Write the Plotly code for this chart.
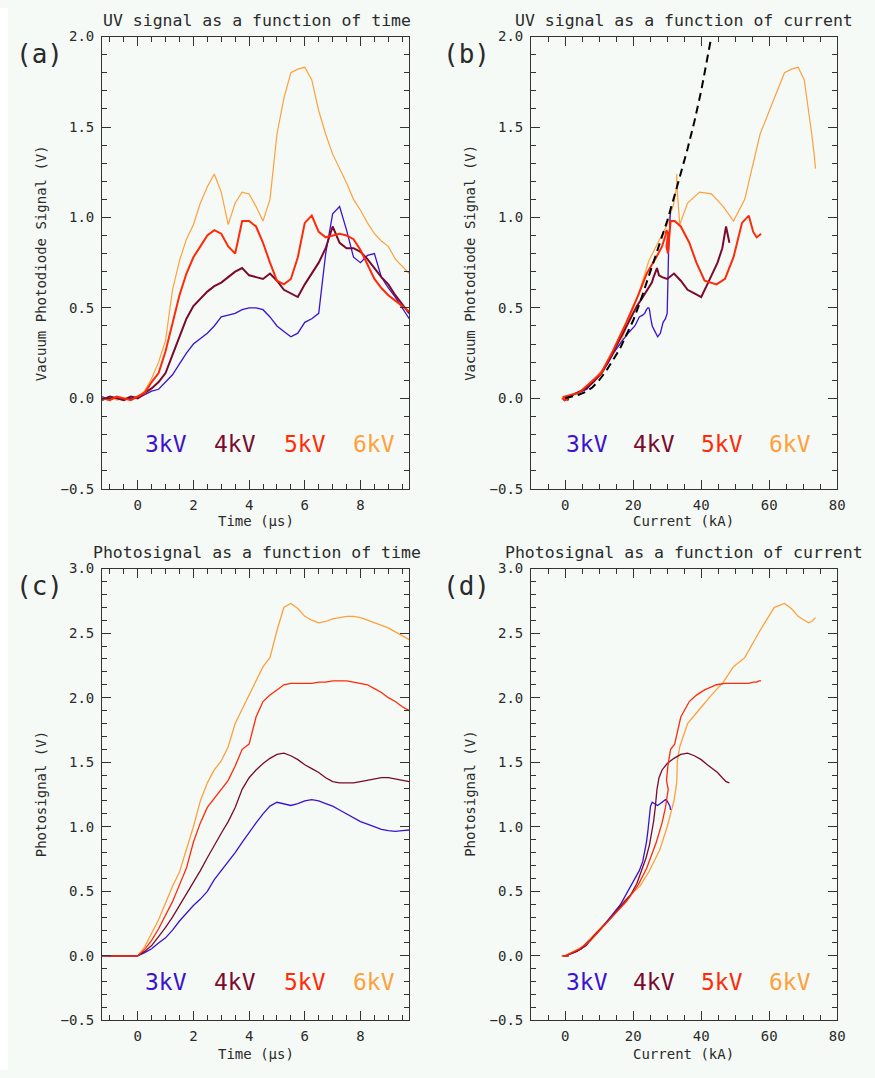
import plotly.graph_objects as go

# ---------------- data ----------------
TIME_US = [-1.28, -1.0, -0.75, -0.5, -0.25,
           0.0, 0.25, 0.5, 0.75, 1.0, 1.25, 1.5, 1.75, 2.0, 2.25, 2.5, 2.75,
           3.0, 3.25, 3.5, 3.75, 4.0, 4.25, 4.5, 4.75, 5.0, 5.25, 5.5, 5.75,
           6.0, 6.25, 6.5, 6.75, 7.0, 7.25, 7.5, 7.75, 8.0, 8.25, 8.5, 8.75,
           9.0, 9.25, 9.5, 9.75]

UV_3KV = [0.01, -0.01, 0.01, -0.01, 0.00,
          0.00, 0.02, 0.04, 0.05, 0.09, 0.13, 0.19, 0.25, 0.30, 0.33, 0.36, 0.40,
          0.45, 0.46, 0.47, 0.49, 0.50, 0.50, 0.49, 0.45, 0.40, 0.37, 0.34, 0.36,
          0.42, 0.44, 0.47, 0.80, 1.02, 1.06, 0.93, 0.78, 0.75, 0.79, 0.80, 0.67,
          0.61, 0.56, 0.50, 0.44]
UV_4KV = [-0.01, 0.01, 0.00, -0.01, 0.01,
          0.00, 0.03, 0.055, 0.09, 0.14, 0.24, 0.34, 0.44, 0.51, 0.55, 0.59, 0.62,
          0.64, 0.67, 0.70, 0.72, 0.68, 0.67, 0.66, 0.69, 0.65, 0.60, 0.58, 0.56,
          0.63, 0.69, 0.75, 0.83, 0.95, 0.86, 0.83, 0.83, 0.81, 0.77, 0.72, 0.67,
          0.63, 0.57, 0.52, 0.47]
UV_5KV = [0.00, -0.01, 0.01, 0.00, -0.01,
          0.01, 0.03, 0.09, 0.14, 0.26, 0.42, 0.57, 0.69, 0.78, 0.84, 0.90, 0.93,
          0.91, 0.84, 0.80, 0.98, 0.98, 0.95, 0.86, 0.75, 0.65, 0.63, 0.66, 0.78,
          0.97, 1.01, 0.92, 0.89, 0.90, 0.91, 0.90, 0.88, 0.82, 0.74, 0.66, 0.61,
          0.57, 0.54, 0.51, 0.48]
UV_6KV = [0.00, 0.01, -0.01, 0.00, 0.01,
          0.01, 0.04, 0.11, 0.20, 0.32, 0.60, 0.76, 0.88, 0.96, 1.08, 1.17, 1.24,
          1.14, 0.96, 1.08, 1.14, 1.13, 1.06, 0.98, 1.10, 1.46, 1.66, 1.80, 1.82,
          1.83, 1.76, 1.59, 1.46, 1.35, 1.27, 1.19, 1.10, 1.04, 0.97, 0.91, 0.87,
          0.84, 0.77, 0.73, 0.69]

PS_3KV = [0.0, 0.0, 0.0, 0.0, 0.0,
          0.0, 0.025, 0.055, 0.10, 0.14, 0.20, 0.27, 0.33, 0.39, 0.44, 0.50, 0.59,
          0.66, 0.73, 0.80, 0.88, 0.96, 1.03, 1.10, 1.16, 1.19, 1.18, 1.165, 1.18,
          1.20, 1.21, 1.20, 1.18, 1.16, 1.13, 1.10, 1.07, 1.04, 1.02, 1.00, 0.98,
          0.97, 0.965, 0.97, 0.975]
PS_4KV = [0.0, 0.0, 0.0, 0.0, 0.0,
          0.0, 0.035, 0.08, 0.15, 0.22, 0.30, 0.39, 0.47, 0.56, 0.66, 0.76, 0.86,
          0.95, 1.04, 1.15, 1.29, 1.38, 1.44, 1.49, 1.53, 1.56, 1.57, 1.55, 1.52,
          1.48, 1.45, 1.42, 1.38, 1.35, 1.34, 1.34, 1.34, 1.35, 1.36, 1.37, 1.38,
          1.38, 1.37, 1.36, 1.35]
PS_5KV = [0.0, 0.0, 0.0, 0.0, 0.0,
          0.0, 0.05, 0.12, 0.21, 0.31, 0.42, 0.55, 0.68, 0.88, 1.03, 1.15, 1.22,
          1.29, 1.36, 1.47, 1.60, 1.64, 1.85, 1.97, 2.02, 2.06, 2.10, 2.11, 2.11,
          2.11, 2.11, 2.12, 2.12, 2.13, 2.13, 2.13, 2.12, 2.11, 2.10, 2.07, 2.04,
          2.00, 1.97, 1.93, 1.90]
PS_6KV = [0.0, 0.0, 0.0, 0.0, 0.0,
          0.0, 0.07, 0.17, 0.28, 0.41, 0.54, 0.65, 0.82, 1.00, 1.20, 1.34, 1.44,
          1.51, 1.62, 1.80, 1.91, 2.02, 2.12, 2.24, 2.31, 2.52, 2.70, 2.73, 2.69,
          2.63, 2.60, 2.58, 2.59, 2.61, 2.62, 2.63, 2.63, 2.62, 2.60, 2.58, 2.56,
          2.54, 2.51, 2.48, 2.45]

# discharge current (kA) on the same time samples, up to the current peak (t = 7.25 us)
CURRENT_3KV = [0.5, -0.5, 1.0, 0.0, -0.5,
               0.0, 2.5, 4.8, 6.4, 8.1, 10.2, 12.5, 14.2, 16.1, 17.2, 18.5, 20.5,
               21.8, 22.8, 23.4, 23.9, 24.3, 24.6, 24.8, 25.1, 25.6, 26.4, 27.2, 28.0,
               28.8, 29.5, 30.0, 30.4, 30.8, 31.0]
CURRENT_4KV = [-0.5, 0.5, 0.0, 1.0, 0.0,
               0.0, 3.5, 6.2, 8.3, 10.8, 13.7, 16.5, 19.2, 21.1, 22.5, 23.8, 24.8,
               25.5, 26.0, 26.5, 27.0, 27.6, 28.5, 30.0, 32.0, 34.0, 36.0, 38.0, 40.0,
               41.8, 43.4, 44.8, 46.2, 47.3, 48.3]
CURRENT_5KV = [-1.0, 0.5, -0.5, 1.0, 0.0,
               0.0, 4.0, 7.5, 10.6, 14.0, 18.0, 21.5, 24.0, 26.8, 28.5, 29.5, 29.8,
               30.3, 29.8, 30.2, 31.0, 32.2, 34.0, 36.5, 38.6, 41.0, 44.5, 47.0, 49.5,
               52.0, 54.0, 55.3, 56.3, 57.0, 57.6]
CURRENT_6KV = [0.0, 1.0, -0.5, 0.5, -1.0,
               0.0, 5.0, 8.8, 12.7, 16.6, 22.0, 24.6, 27.8, 30.0, 32.0, 32.8, 32.8,
               33.0, 33.7, 36.0, 39.5, 43.0, 46.5, 49.5, 52.8, 57.3, 61.5, 64.5, 66.5,
               68.5, 70.3, 71.6, 72.5, 73.2, 73.6]

# dashed reference curve in panel (b)
FIT_CURRENT = [0, 2, 4, 6, 8, 10, 12, 14, 16, 18, 20, 22, 24, 26, 28, 30, 32, 34,
               36, 38, 40, 42, 42.8]
FIT_UV = [0.0, 0.01, 0.02, 0.035, 0.06, 0.10, 0.15, 0.21, 0.27, 0.35, 0.43, 0.53,
          0.64, 0.75, 0.86, 0.98, 1.11, 1.24, 1.38, 1.53, 1.70, 1.90, 1.98]

LABELS = ["3kV", "4kV", "5kV", "6kV"]
LABEL_T = [1.0, 3.5, 6.0, 8.5]
LABEL_I = [6.5, 26.0, 46.0, 66.0]

# ---------------- styling ----------------
W, H = 875, 1078
BG = "#f5faf6"
INK = "#2a2a2a"
MONO = "DejaVu Sans Mono"
COLORS = {"3kV": "#3c12d2", "4kV": "#7a0a2e", "5kV": "#ff2a08", "6kV": "#ffa03c"}
WIDTHS = {"3kV": 1.3, "4kV": 2.0, "5kV": 2.0, "6kV": 1.2}

series = {
    "3kV": (UV_3KV, PS_3KV, CURRENT_3KV),
    "4kV": (UV_4KV, PS_4KV, CURRENT_4KV),
    "5kV": (UV_5KV, PS_5KV, CURRENT_5KV),
    "6kV": (UV_6KV, PS_6KV, CURRENT_6KV),
}
DRAW_ORDER = ["6kV", "3kV", "4kV", "5kV"]


def px(x):
    return x / W


def py(y):
    return 1 - y / H


fig = go.Figure()

for name in DRAW_ORDER:
    uv, ps, cur = series[name]
    n = len(cur)
    line = dict(color=COLORS[name], width=WIDTHS[name])
    fig.add_trace(go.Scatter(x=TIME_US, y=uv, mode="lines", line=line,
                             xaxis="x", yaxis="y", showlegend=False))
    fig.add_trace(go.Scatter(x=cur, y=uv[:n], mode="lines", line=line,
                             xaxis="x2", yaxis="y2", showlegend=False))
    fig.add_trace(go.Scatter(x=TIME_US, y=ps, mode="lines",
                             line=dict(color=COLORS[name], width=1.3),
                             xaxis="x3", yaxis="y3", showlegend=False))
    fig.add_trace(go.Scatter(x=cur, y=ps[:n], mode="lines",
                             line=dict(color=COLORS[name], width=1.3),
                             xaxis="x4", yaxis="y4", showlegend=False))

fig.add_trace(go.Scatter(x=FIT_CURRENT, y=FIT_UV, mode="lines",
                         line=dict(color="black", width=2, dash="8px,5px"),
                         xaxis="x2", yaxis="y2", showlegend=False))


def axis(**kw):
    d = dict(showline=True, linecolor="#333", linewidth=1, mirror="ticks",
             ticks="inside", ticklen=9, tickcolor="#333", tickwidth=1,
             showgrid=False, zeroline=False,
             tickfont=dict(family=MONO, size=14, color=INK))
    d.update(kw)
    return d


XA = [px(103), px(413)]
XB = [px(536), px(845)]
YTOP = [py(488), py(29)]
YBOT = [py(1027.7), py(569)]
MINOR_T = dict(dtick=0.5, ticks="inside", ticklen=5, tickcolor="#333")
MINOR_I = dict(dtick=5, ticks="inside", ticklen=5, tickcolor="#333")
MINOR_Y = dict(dtick=0.1, ticks="inside", ticklen=5, tickcolor="#333")

fig.update_layout(
    width=W, height=H,
    margin=dict(l=0, r=0, t=0, b=0),
    paper_bgcolor=BG, plot_bgcolor=BG,
    xaxis=axis(domain=XA, anchor="y", range=[-1.28, 9.75], tick0=0, dtick=2,
               minor=MINOR_T, ticklabelstandoff=3),
    yaxis=axis(domain=YTOP, anchor="x", range=[-0.5, 2.0], tick0=0, dtick=0.5,
               tickformat=".1f", minor=MINOR_Y, ticklabelstandoff=4),
    xaxis2=axis(domain=XB, anchor="y2", range=[-10, 80], tick0=0, dtick=20,
                minor=MINOR_I, ticklabelstandoff=3),
    yaxis2=axis(domain=YTOP, anchor="x2", range=[-0.5, 2.0], tick0=0, dtick=0.5,
                tickformat=".1f", minor=MINOR_Y, ticklabelstandoff=4),
    xaxis3=axis(domain=XA, anchor="y3", range=[-1.28, 9.75], tick0=0, dtick=2,
                minor=MINOR_T, ticklabelstandoff=3),
    yaxis3=axis(domain=YBOT, anchor="x3", range=[-0.5, 3.0], tick0=0, dtick=0.5,
                tickformat=".1f", minor=MINOR_Y, ticklabelstandoff=4),
    xaxis4=axis(domain=XB, anchor="y4", range=[-10, 80], tick0=0, dtick=20,
                minor=MINOR_I, ticklabelstandoff=3),
    yaxis4=axis(domain=YBOT, anchor="x4", range=[-0.5, 3.0], tick0=0, dtick=0.5,
                tickformat=".1f", minor=MINOR_Y, ticklabelstandoff=4),
)

ann = []


def text(x, y, s, size, angle=0):
    ann.append(dict(x=px(x), y=py(y), xref="paper", yref="paper", text=s,
                    showarrow=False, xanchor="center", yanchor="middle",
                    textangle=angle, font=dict(family=MONO, size=size, color=INK)))


text(259, 13, "UV signal as a function of time", 16.5)
text(690, 13, "UV signal as a function of current", 16.5)
text(259, 553, "Photosignal as a function of time", 16.5)
text(690, 553, "Photosignal as a function of current", 16.5)
text(40, 47, "(a)", 26)
text(471, 47, "(b)", 26)
text(40, 587, "(c)", 26)
text(471, 587, "(d)", 26)
text(258, 521, "Time (μs)", 14)
text(258, 1062, "Time (μs)", 14)
text(690, 521, "Current (kA)", 14)
text(690, 1062, "Current (kA)", 14)
text(41.5, 259, "Vacuum Photodiode Signal (V)", 14, -90)
text(474, 259, "Vacuum Photodiode Signal (V)", 14, -90)
text(41.5, 798, "Photosignal (V)", 14, -90)
text(474, 798, "Photosignal (V)", 14, -90)

for lab, lt, li in zip(LABELS, LABEL_T, LABEL_I):
    f = dict(family=MONO, size=23, color=COLORS[lab])
    for xr, yr, xv, yv in (("x", "y", lt, -0.25), ("x2", "y2", li, -0.25),
                           ("x3", "y3", lt, -0.2), ("x4", "y4", li, -0.2)):
        ann.append(dict(x=xv, y=yv, xref=xr, yref=yr, text=lab, showarrow=False,
                        xanchor="center", yanchor="middle", font=f))

fig.update_layout(annotations=ann)

fig.add_shape(type="rect", xref="paper", yref="paper", x0=0, x1=px(8), y0=0, y1=1,
              fillcolor="white", line=dict(width=0), layer="below")

fig.write_html("out.html")
